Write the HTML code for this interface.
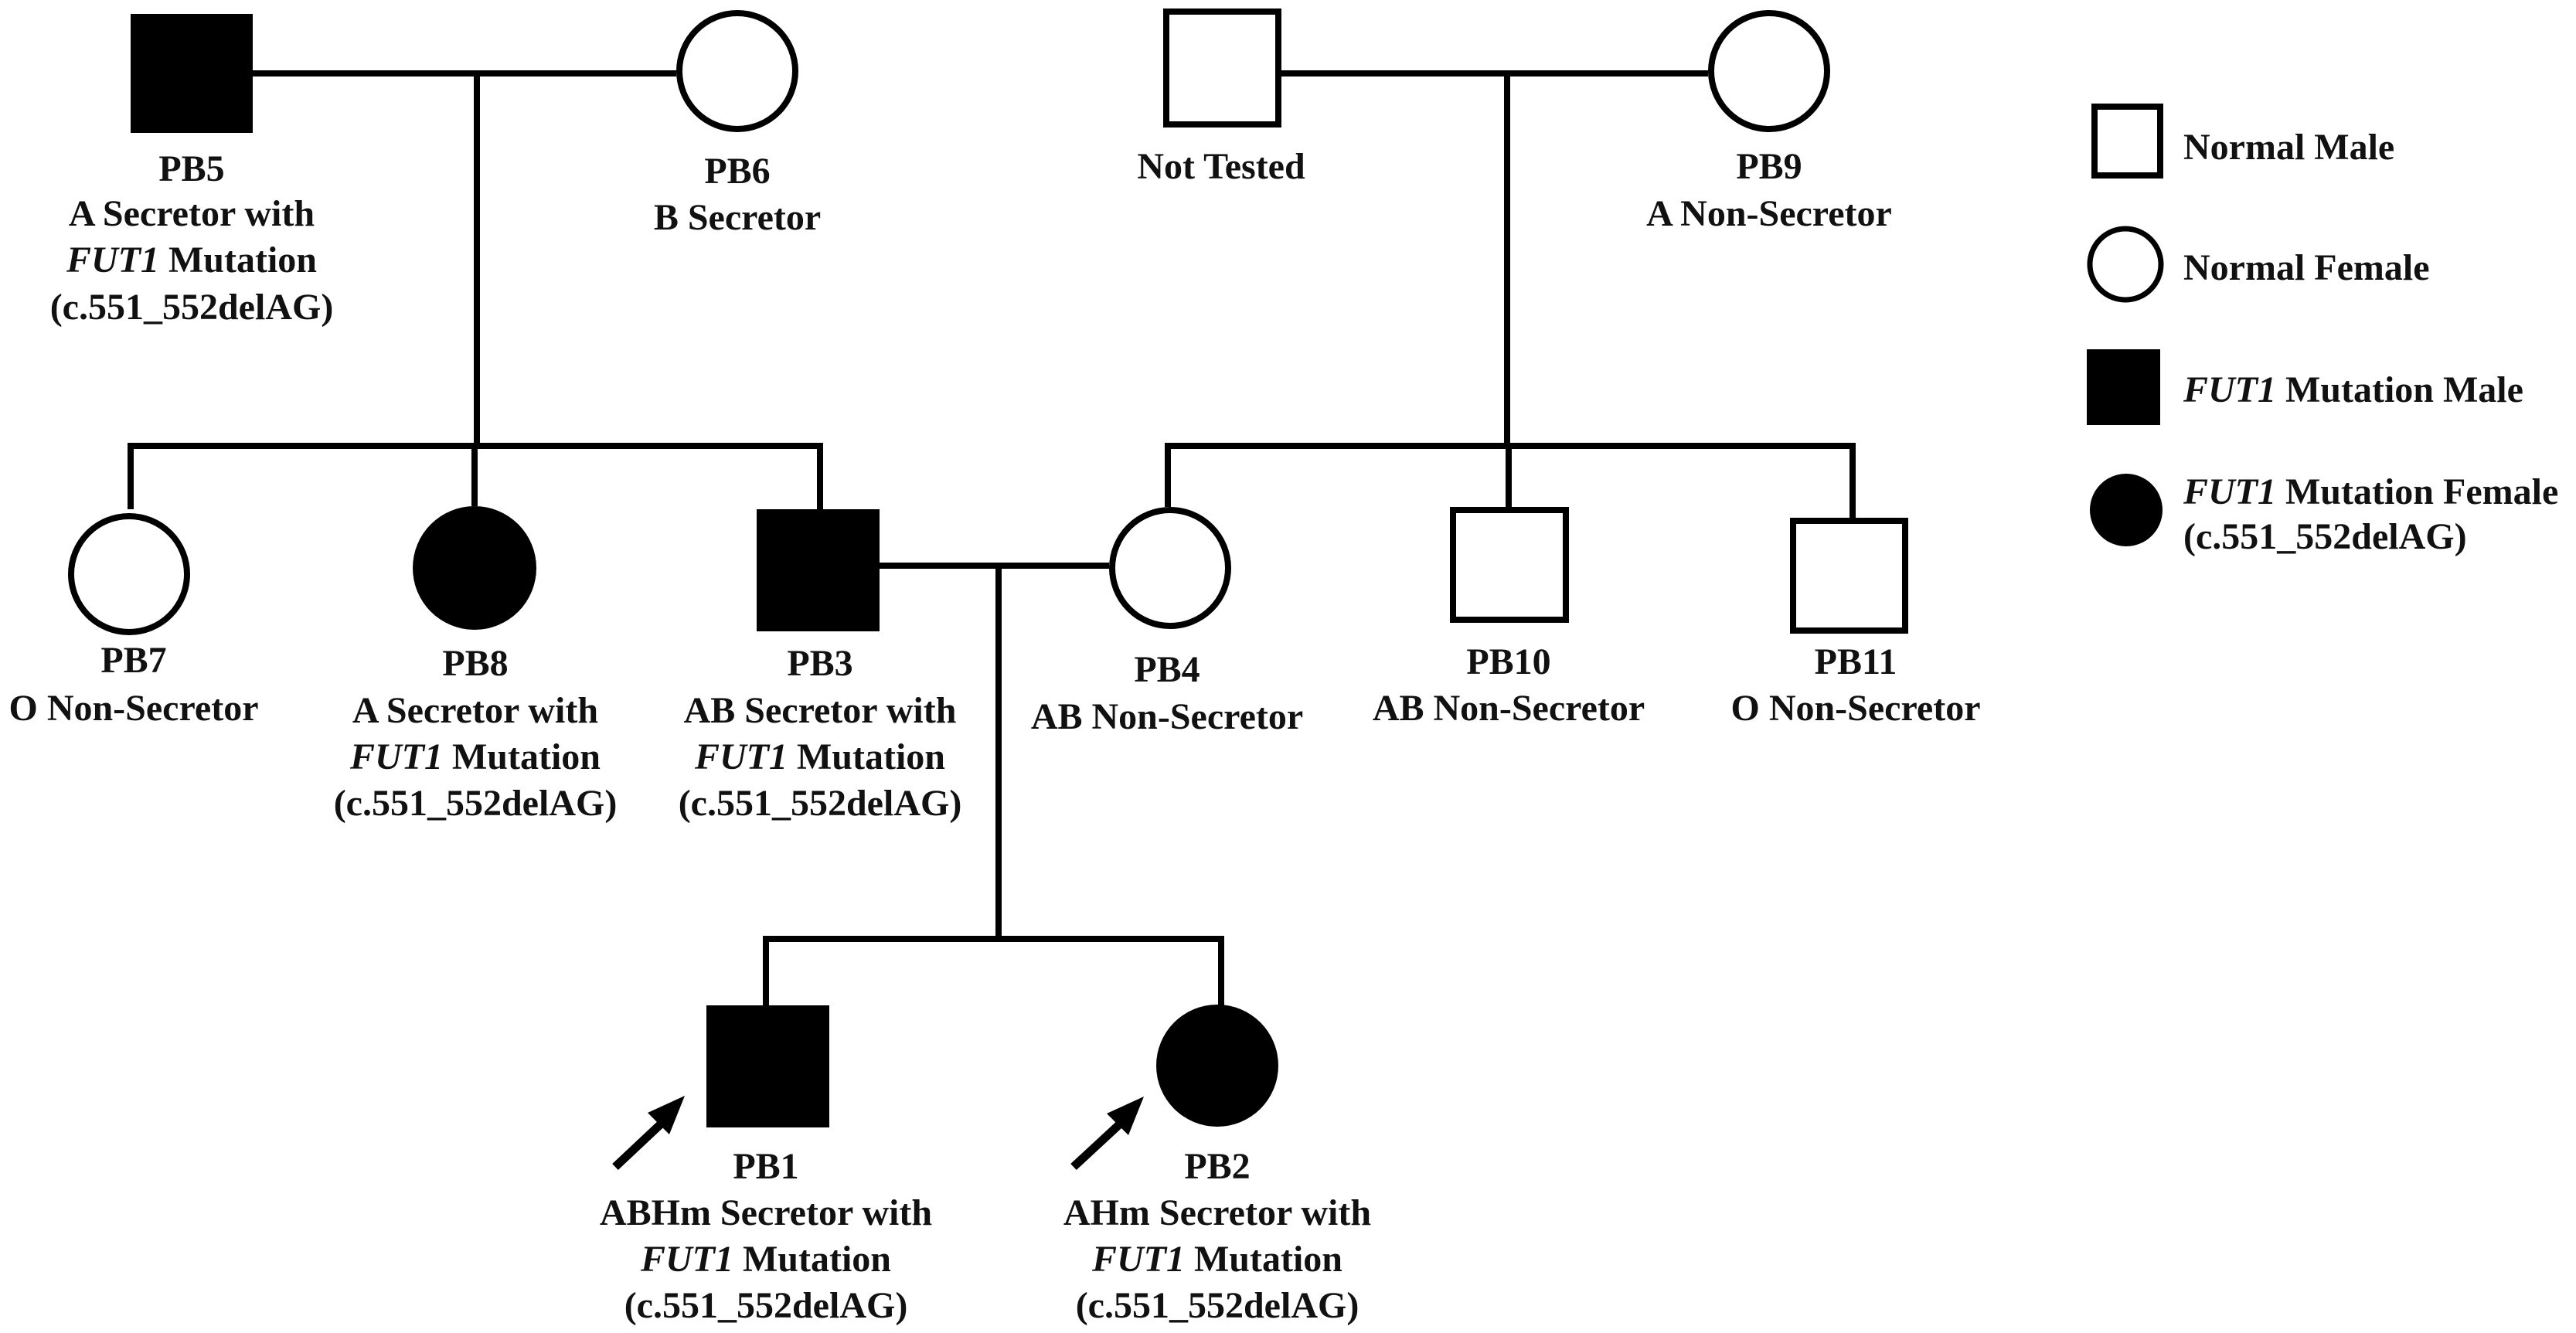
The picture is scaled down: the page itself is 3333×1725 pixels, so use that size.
<!DOCTYPE html>
<html><head><meta charset="utf-8"><style>
html,body{margin:0;padding:0;background:#fff}
svg{display:block}
</style></head><body>
<svg width="3333" height="1725" viewBox="0 0 3333 1725" xmlns="http://www.w3.org/2000/svg">
<g stroke="#000" stroke-width="8" fill="none">
<line x1="327" y1="95" x2="875" y2="95"/>
<line x1="617" y1="95" x2="617" y2="577"/>
<polyline points="169,659 169,577 1061,577 1061,659"/>
<line x1="614" y1="577" x2="614" y2="655"/>
<line x1="1654" y1="95" x2="2210" y2="95"/>
<line x1="1950" y1="95" x2="1950" y2="577"/>
<polyline points="1511,656 1511,577 2397,577 2397,670"/>
<line x1="1952" y1="577" x2="1952" y2="656"/>
<line x1="1138" y1="732" x2="1435" y2="732"/>
<line x1="1292" y1="732" x2="1292" y2="1215"/>
<polyline points="991,1301 991,1215 1580,1215 1580,1301"/>
</g>
<rect x="169" y="18" width="158" height="154" fill="#000"/>
<circle cx="954" cy="92" r="75" fill="#fff" stroke="#000" stroke-width="8"/>
<rect x="1509" y="15" width="145" height="146" fill="#fff" stroke="#000" stroke-width="8"/>
<circle cx="2289" cy="92" r="75" fill="#fff" stroke="#000" stroke-width="8"/>
<circle cx="167" cy="743" r="75" fill="#fff" stroke="#000" stroke-width="8"/>
<ellipse cx="614" cy="735" rx="80" ry="80" fill="#000"/>
<rect x="979" y="659" width="159" height="158" fill="#000"/>
<circle cx="1514" cy="735" r="75" fill="#fff" stroke="#000" stroke-width="8"/>
<rect x="1880" y="660" width="146" height="142" fill="#fff" stroke="#000" stroke-width="8"/>
<rect x="2320" y="674" width="145" height="142" fill="#fff" stroke="#000" stroke-width="8"/>
<rect x="914" y="1301" width="159" height="158" fill="#000"/>
<ellipse cx="1575" cy="1379" rx="79" ry="79" fill="#000"/>
<g stroke="#000" stroke-width="11" fill="#000">
<line x1="796" y1="1510" x2="862" y2="1448"/>
<line x1="1389" y1="1510" x2="1456" y2="1448"/>
</g>
<polygon points="886,1418 838,1440 866,1468" fill="#000"/>
<polygon points="1480,1419 1432,1441 1460,1469" fill="#000"/>
<rect x="2710" y="138" width="85" height="89" fill="#fff" stroke="#000" stroke-width="8"/>
<circle cx="2750" cy="342" r="46" fill="#fff" stroke="#000" stroke-width="7"/>
<rect x="2700" y="452" width="95" height="98" fill="#000"/>
<circle cx="2751" cy="660" r="47" fill="#000"/>
<g font-family="'Liberation Serif', 'DejaVu Serif', serif" font-weight="bold" font-size="48" fill="#111">
<text x="2825" y="206">Normal Male</text>
<text x="2825" y="362">Normal Female</text>
<text x="2825" y="520"><tspan font-style="italic">FUT1</tspan> Mutation Male</text>
<text x="2825" y="652"><tspan font-style="italic">FUT1</tspan> Mutation Female</text>
<text x="2825" y="710">(c.551_552delAG)</text>
<g text-anchor="middle">
<text x="248" y="234">PB5</text>
<text x="248" y="292">A Secretor with</text>
<text x="248" y="352"><tspan font-style="italic">FUT1</tspan> Mutation</text>
<text x="248" y="413">(c.551_552delAG)</text>
<text x="954" y="237">PB6</text>
<text x="954" y="297">B Secretor</text>
<text x="1580" y="231">Not Tested</text>
<text x="2289" y="231">PB9</text>
<text x="2289" y="292">A Non-Secretor</text>
<text x="173" y="870">PB7</text>
<text x="173" y="932">O Non-Secretor</text>
<text x="615" y="874">PB8</text>
<text x="615" y="935">A Secretor with</text>
<text x="615" y="995"><tspan font-style="italic">FUT1</tspan> Mutation</text>
<text x="615" y="1055">(c.551_552delAG)</text>
<text x="1061" y="874">PB3</text>
<text x="1061" y="935">AB Secretor with</text>
<text x="1061" y="995"><tspan font-style="italic">FUT1</tspan> Mutation</text>
<text x="1061" y="1055">(c.551_552delAG)</text>
<text x="1510" y="882">PB4</text>
<text x="1510" y="943">AB Non-Secretor</text>
<text x="1952" y="872">PB10</text>
<text x="1952" y="932">AB Non-Secretor</text>
<text x="2401" y="872">PB11</text>
<text x="2401" y="932">O Non-Secretor</text>
<text x="991" y="1525">PB1</text>
<text x="991" y="1585">ABHm Secretor with</text>
<text x="991" y="1645"><tspan font-style="italic">FUT1</tspan> Mutation</text>
<text x="991" y="1705">(c.551_552delAG)</text>
<text x="1575" y="1525">PB2</text>
<text x="1575" y="1585">AHm Secretor with</text>
<text x="1575" y="1645"><tspan font-style="italic">FUT1</tspan> Mutation</text>
<text x="1575" y="1705">(c.551_552delAG)</text>
</g>
</g>
</svg>
</body></html>
